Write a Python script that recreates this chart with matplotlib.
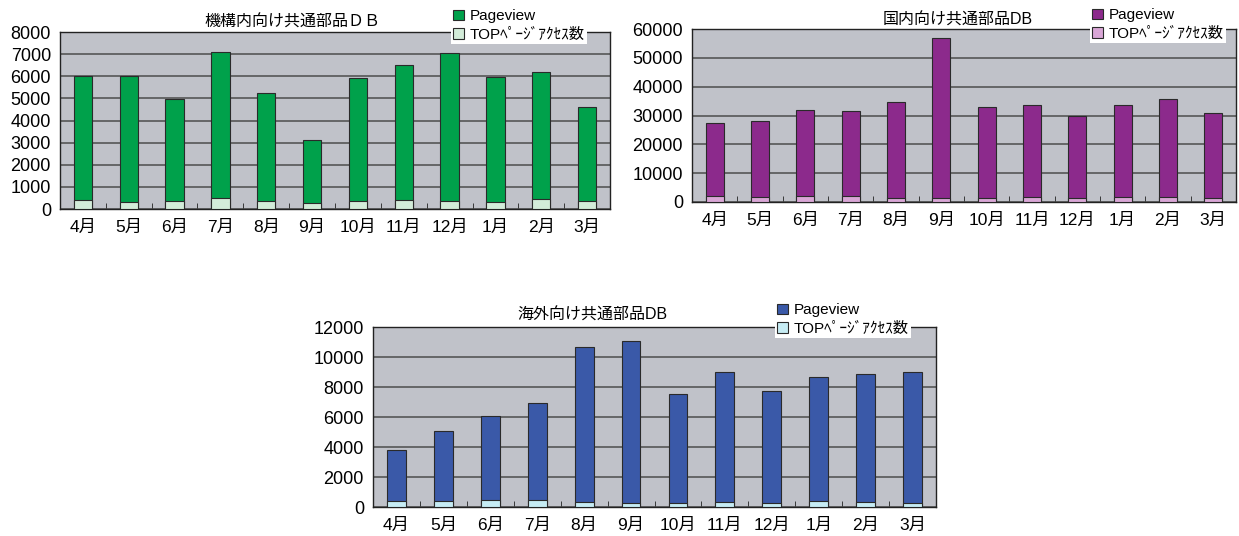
import matplotlib
matplotlib.use("Agg")
import matplotlib.pyplot as plt
from matplotlib.patches import Patch
from matplotlib.ticker import FixedLocator, MultipleLocator

plt.rcParams['font.family'] = ['Liberation Sans', 'Noto Sans CJK JP', 'DejaVu Sans']

months = ['4月', '5月', '6月', '7月', '8月', '9月', '10月', '11月', '12月', '1月', '2月', '3月']
legend_labels = ['Pageview', 'TOPﾍﾟｰｼﾞｱｸｾｽ数']

title1 = '機構内向け共通部品ＤＢ'
pv1 = [6000, 6000, 4960, 7080, 5250, 3140, 5910, 6530, 7050, 5950, 6210, 4590]
top1 = [420, 330, 375, 480, 375, 255, 375, 405, 375, 330, 450, 375]

title2 = '国内向け共通部品DB'
pv2 = [27300, 28200, 32000, 31700, 34700, 56900, 32800, 33800, 29800, 33700, 35700, 30700]
top2 = [2000, 1750, 2000, 2000, 1400, 1400, 1400, 1700, 1300, 1700, 1700, 1400]

title3 = '海外向け共通部品DB'
pv3 = [3830, 5040, 6070, 6920, 10690, 11100, 7560, 8980, 7730, 8670, 8870, 8980]
top3 = [370, 370, 440, 500, 305, 260, 260, 305, 260, 370, 305, 260]

W, H = 1239, 536
fig = plt.figure(figsize=(W / 100, H / 100), dpi=100)


def rect(l, r, t, b):
    return [l / W, 1 - b / H, (r - l) / W, (b - t) / H]


def draw(box, pv, top, ymax, ystep, c_pv, c_top, title, title_xy, leg_xy):
    ax = fig.add_axes(rect(*box))
    ax.set_facecolor('#c0c2c9')
    x = list(range(len(months)))
    ax.bar(x, pv, width=0.4, color=c_pv, edgecolor='#2a2a2a', linewidth=0.8, zorder=3)
    ax.bar(x, top, width=0.4, color=c_top, edgecolor='#2a2a2a', linewidth=0.8, zorder=4)
    ax.set_xlim(-0.5, len(months) - 0.5)
    ax.set_ylim(0, ymax)
    ax.yaxis.set_major_locator(MultipleLocator(ystep))
    ax.grid(axis='y', color='#4d4d4d', linewidth=1.1, zorder=1)
    ax.set_axisbelow(True)
    ax.set_xticks(x)
    ax.set_xticklabels(months, fontsize=12.5)
    ax.xaxis.set_minor_locator(FixedLocator([i + 0.5 for i in range(-1, len(months))]))
    ax.tick_params(axis='x', which='major', length=0, pad=7.5)
    ax.tick_params(axis='x', which='minor', length=4, direction='in', color='#222')
    ax.tick_params(axis='y', length=0, labelsize=13, pad=6.5)
    for s in ax.spines.values():
        s.set_color('#222')
        s.set_linewidth(1.0)
    fig.text(title_xy[0] / W, 1 - title_xy[1] / H, title, ha='center', va='center', fontsize=11.5)
    handles = [Patch(facecolor=c_pv, edgecolor='#2a2a2a', linewidth=0.8),
               Patch(facecolor=c_top, edgecolor='#2a2a2a', linewidth=0.8)]
    leg = ax.legend(handles, legend_labels, loc='upper left',
                    bbox_to_anchor=(leg_xy[0] / W, 1 - leg_xy[1] / H),
                    bbox_transform=fig.transFigure, frameon=True, facecolor='white',
                    edgecolor='none', framealpha=1, fancybox=False, fontsize=11,
                    borderpad=0.15, handlelength=0.7, handleheight=0.7,
                    labelspacing=0.3, handletextpad=0.35, borderaxespad=0)
    leg.set_zorder(10)
    return ax


draw((60, 610, 32, 209), pv1, top1, 8000, 1000, '#00a14b', '#d3ecd9',
     title1, (292, 22), (451, 7))
draw((692, 1236, 29, 202), pv2, top2, 60000, 10000, '#8c2a8c', '#d9a6d6',
     title2, (958, 20), (1090, 6))
draw((373, 936, 327, 507), pv3, top3, 12000, 2000, '#3a59a8', '#c6ecf4',
     title3, (592, 315), (775, 301))

fig.savefig('out.png', dpi=100)
